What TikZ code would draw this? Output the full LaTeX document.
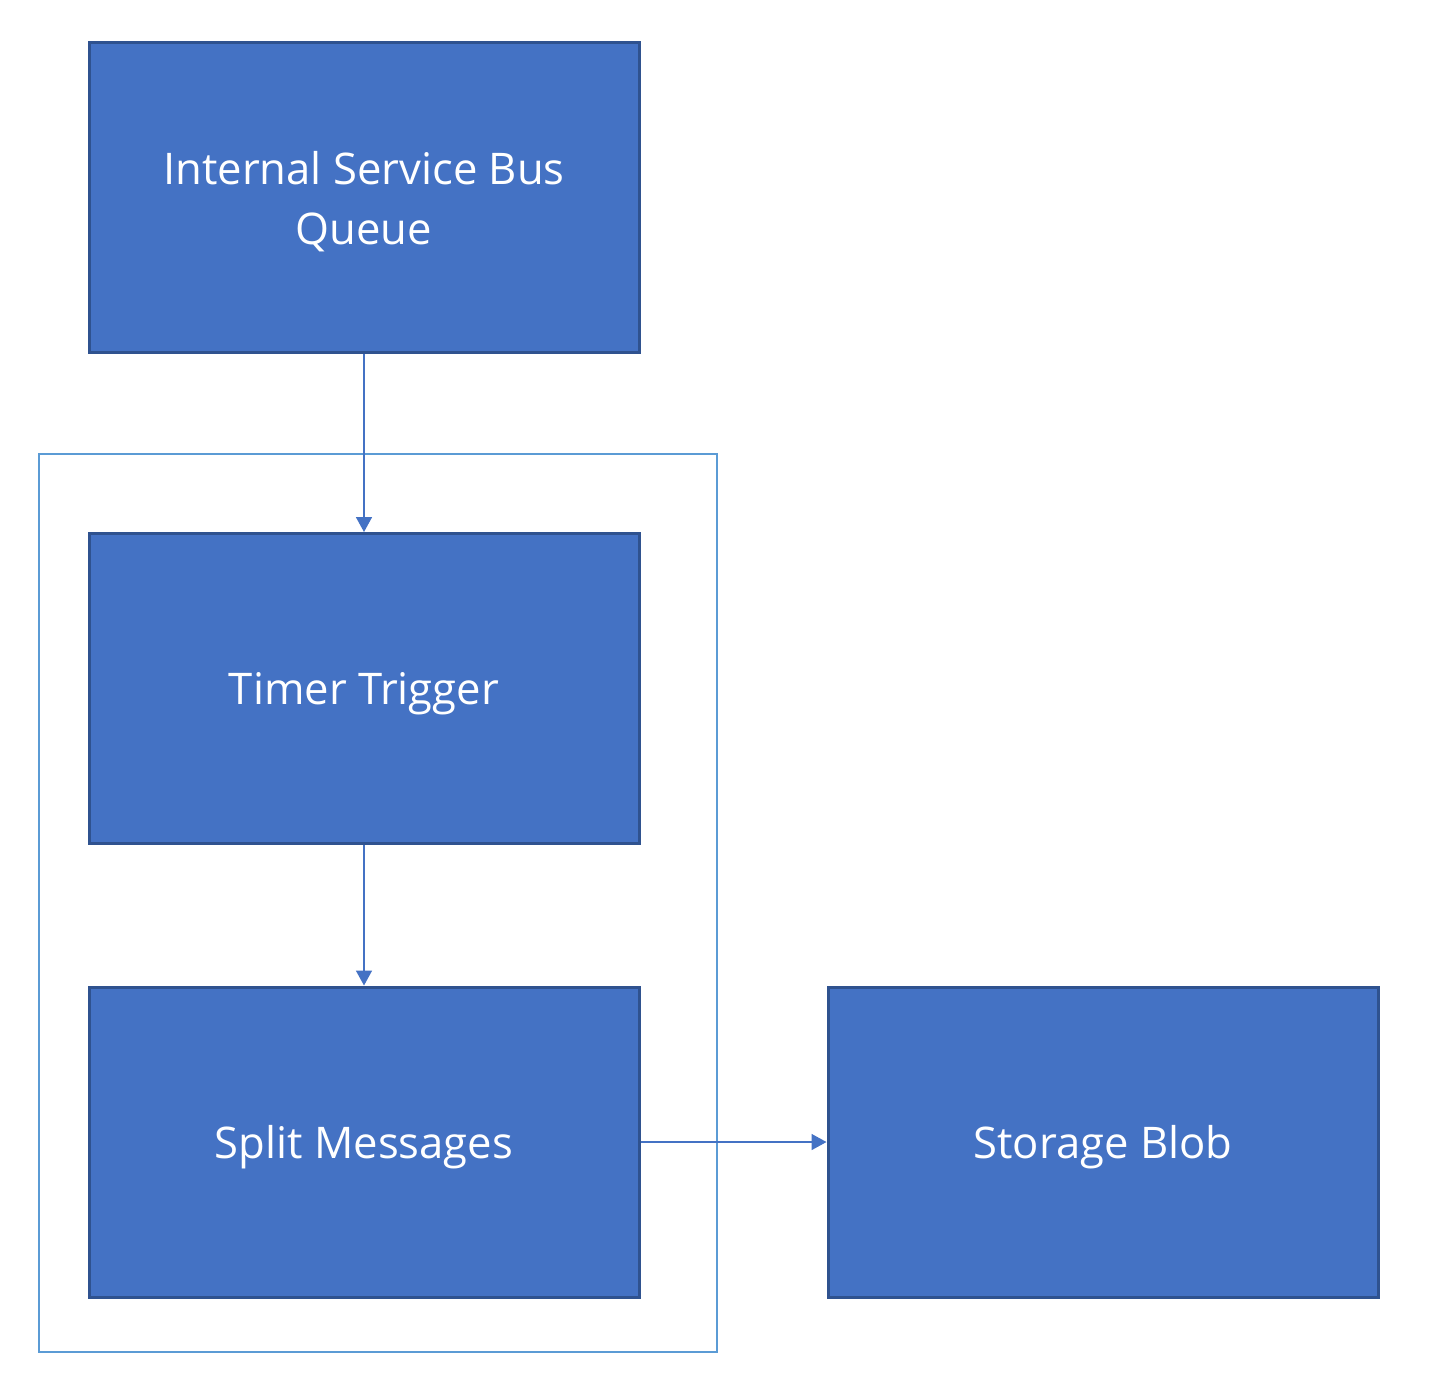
\documentclass[tikz,border=0pt]{standalone}
\usepackage{fontspec}
\setmainfont{Open Sans}
\definecolor{boxblue}{RGB}{68, 114, 196}
\definecolor{boxedge}{RGB}{47, 82, 143}
\definecolor{frameblue}{RGB}{91, 155, 213}
\usetikzlibrary{arrows.meta, positioning}

\begin{document}
\begin{tikzpicture}[
  x=0.5pt, y=-0.5pt,
  fbox/.style={draw=boxedge, fill=boxblue, line width=1.5pt, minimum width=275pt, minimum height=155pt, text=white, align=center, text depth=0pt, font=\fontsize{21.8}{30}\selectfont},
  flow/.style={draw=boxblue, line width=0.8pt, -{Triangle[width=8pt, length=7.5pt]}}
]
  \useasboundingbox (0,0) rectangle (1429,1378);
  \draw[frameblue, line width=1.2pt] (39,454) rectangle (717,1352);
  \node[fbox] (queue) at (364, 197.5) {Internal Service Bus\\Queue};
  \node[fbox] (timer) at (364, 688.5) {Timer Trigger};
  \node[fbox] (split) at (364, 1142) {Split Messages};
  \node[fbox] (blob) at (1103, 1142) {Storage Blob};
  \draw[flow] (queue) -- (timer);
  \draw[flow] (timer) -- (split);
  \draw[flow] (split) -- (blob);
\end{tikzpicture}
\end{document}
